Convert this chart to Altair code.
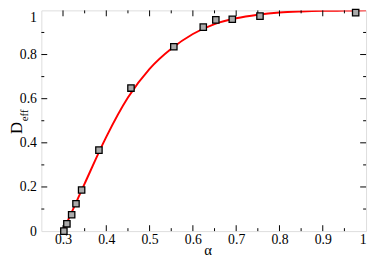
import altair as alt
import pandas as pd

# measured data points
alpha_pts = [0.302, 0.309, 0.320, 0.330, 0.343, 0.383, 0.457, 0.556, 0.624, 0.653, 0.691, 0.755, 0.976]
deff_pts = [0.000, 0.033, 0.074, 0.124, 0.186, 0.367, 0.648, 0.835, 0.924, 0.957, 0.960, 0.974, 0.990]

# fitted curve
alpha_fit = [0.300, 0.320, 0.350, 0.400, 0.450, 0.500, 0.550, 0.600, 0.650, 0.700, 0.750, 0.800, 0.850, 0.900, 0.950, 1.000]
deff_fit = [0.000, 0.085, 0.215, 0.427, 0.605, 0.735, 0.826, 0.893, 0.938, 0.964, 0.980, 0.990, 0.995, 0.998, 0.999, 1.000]

x_major = [0.3, 0.4, 0.5, 0.6, 0.7, 0.8, 0.9]
x_minor = [0.35, 0.45, 0.55, 0.65, 0.75, 0.85, 0.95]
y_major = [0.2, 0.4, 0.6, 0.8]
y_minor = [0.1, 0.3, 0.5, 0.7, 0.9]
x_labels = [0.3, 0.4, 0.5, 0.6, 0.7, 0.8, 0.9, 1.0]
y_labels = [0, 0.2, 0.4, 0.6, 0.8, 1.0]

W, H = 331, 225
FONT = "Liberation Serif, Times New Roman, serif"

xs = alt.Scale(domain=[0.25, 1.0], nice=False, zero=False)
ys = alt.Scale(domain=[0.0, 1.0], nice=False)

xaxis = alt.Axis(values=x_labels, ticks=False, domain=False, grid=False, labelFont=FONT,
                 labelFontSize=14, labelColor="#000", labelPadding=2, title=None,
                 labelExpr="datum.value == 1 ? '1' : format(datum.value, '.1f')")
yaxis = alt.Axis(values=y_labels, ticks=False, domain=False, grid=False, labelFont=FONT,
                 labelFontSize=14, labelColor="#000", labelPadding=5, title=None,
                 labelBaseline={"condition": {"test": "datum.value == 1", "value": "top"}, "value": "middle"},
                 labelExpr="datum.value == 0 ? '0' : datum.value == 1 ? '1' : format(datum.value, '.1f')")

fit = pd.DataFrame({"a": alpha_fit, "d": deff_fit})
pts = pd.DataFrame({"a": alpha_pts, "d": deff_pts})

line = alt.Chart(fit).mark_line(color="#ff0000", strokeWidth=2, interpolate="monotone", clip=True).encode(
    x=alt.X("a:Q", scale=xs, axis=xaxis),
    y=alt.Y("d:Q", scale=ys, axis=yaxis),
)
points = alt.Chart(pts).mark_point(shape="square", filled=True, fill="#aaaaaa", stroke="#000",
                                   strokeWidth=1.3, size=42, opacity=1).encode(
    x=alt.X("a:Q", scale=xs),
    y=alt.Y("d:Q", scale=ys),
)

def xticks(vals, length):
    df = pd.DataFrame({"a": vals})
    b = alt.Chart(df).mark_rule(color="#000", strokeWidth=1).encode(
        x=alt.X("a:Q", scale=xs), y=alt.value(H), y2=alt.value(H - length))
    t = alt.Chart(df).mark_rule(color="#000", strokeWidth=1).encode(
        x=alt.X("a:Q", scale=xs), y=alt.value(0), y2=alt.value(length))
    return [b, t]

def yticks(vals, length):
    df = pd.DataFrame({"d": vals})
    l = alt.Chart(df).mark_rule(color="#000", strokeWidth=1).encode(
        y=alt.Y("d:Q", scale=ys), x=alt.value(0), x2=alt.value(length))
    r = alt.Chart(df).mark_rule(color="#000", strokeWidth=1).encode(
        y=alt.Y("d:Q", scale=ys), x=alt.value(W), x2=alt.value(W - length))
    return [l, r]

ticks = xticks(x_major, 6) + xticks(x_minor, 3) + yticks(y_major, 6) + yticks(y_minor, 3)

d_txt = alt.Chart(pd.DataFrame({"t": ["D"]})).mark_text(font=FONT, fontSize=17, angle=270, align="center",
                                                       baseline="middle", color="#000").encode(
    text="t:N", x=alt.value(-25), y=alt.value(120))
e_txt = alt.Chart(pd.DataFrame({"t": ["eff"]})).mark_text(font=FONT, fontSize=11, angle=270,
                                                          align="center", baseline="middle", color="#000").encode(
    text="t:N", x=alt.value(-17), y=alt.value(107))
a_txt = alt.Chart(pd.DataFrame({"t": ["α"]})).mark_text(font=FONT, fontSize=15, align="center",
                                                       baseline="middle", color="#000").encode(
    text="t:N", x=alt.value(170), y=alt.value(244))

chart = alt.layer(line, *ticks, points, d_txt, e_txt, a_txt).properties(
    width=W, height=H,
    autosize=alt.AutoSizeParams(type="none"),
    padding={"left": 34, "top": 0, "right": 3, "bottom": 26},
).configure_view(stroke="#000", strokeWidth=1.5).configure(background="white")

chart.save("out.html", embed_options={"renderer": "svg", "actions": False})
